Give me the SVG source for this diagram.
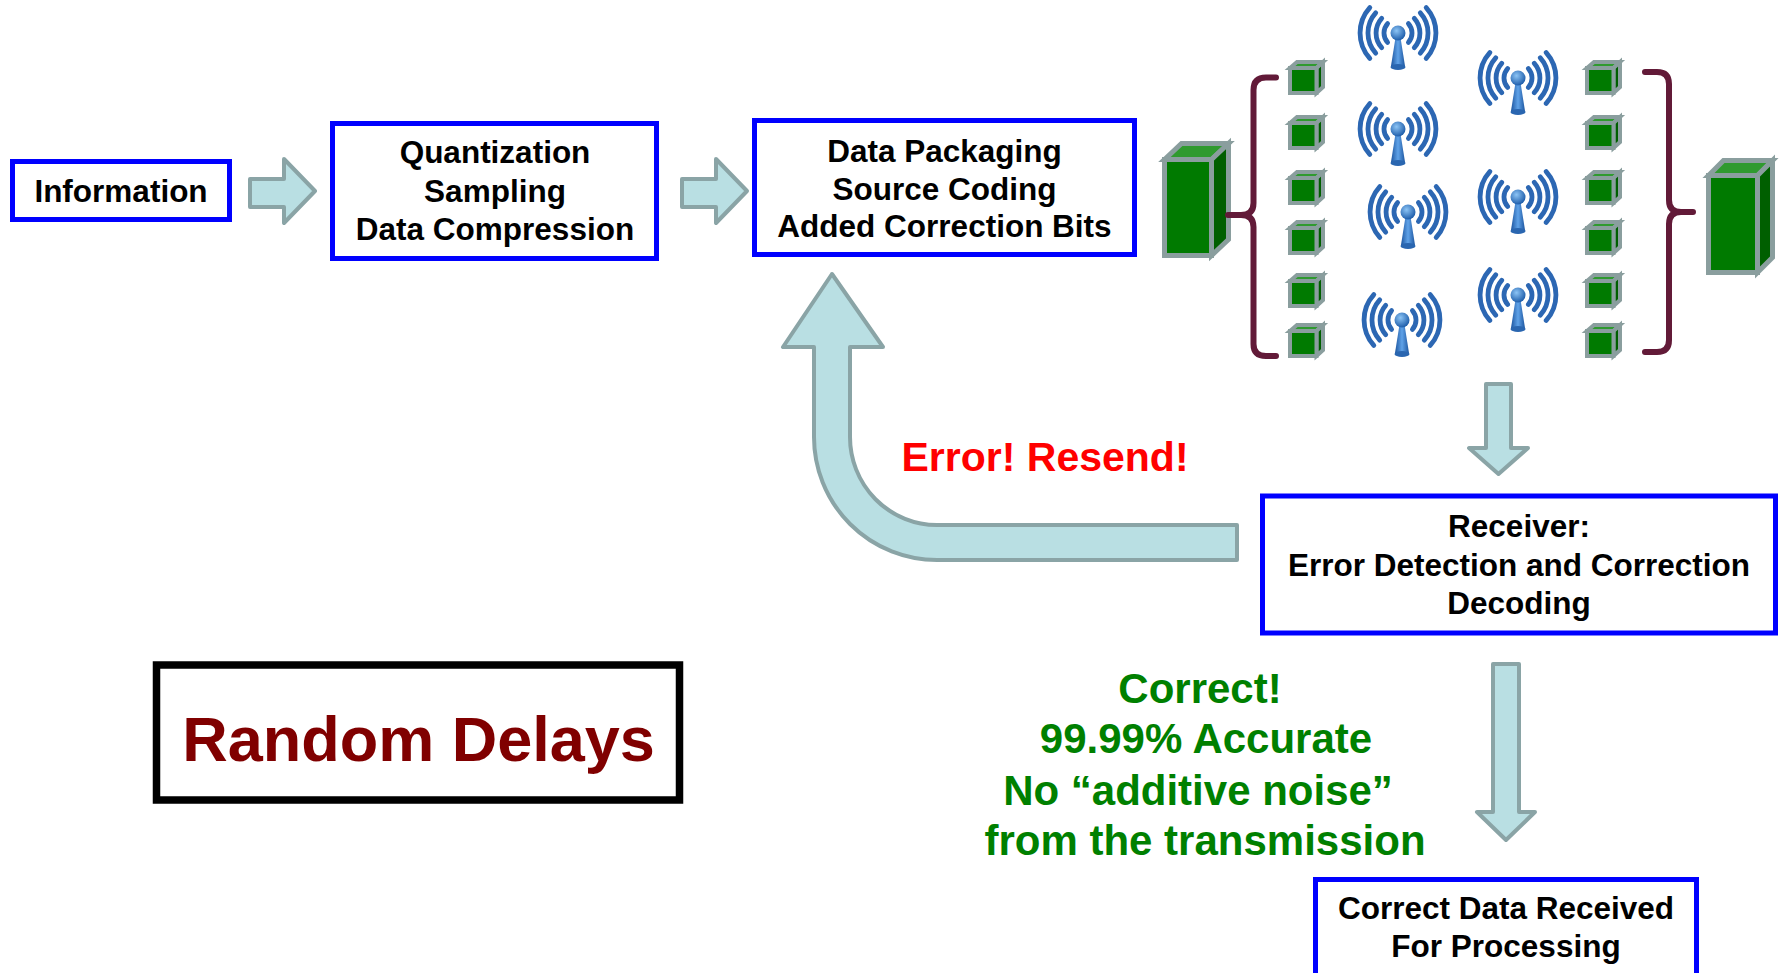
<svg xmlns="http://www.w3.org/2000/svg" width="1781" height="973" viewBox="0 0 1781 973">
  <defs>
    <style>
      .box{fill:#ffffff;stroke:#0000ff;stroke-width:5}
      .lbl{font-family:"Liberation Sans",Arial,Helvetica,sans-serif;font-weight:bold;text-anchor:middle}
      .bt{font-size:31.5px;fill:#000000}
      .flow{fill:#b9dfe3;stroke:#8aa4a6;stroke-width:4;stroke-linejoin:round}
      .brace{fill:none;stroke:#621a38;stroke-width:6;stroke-linecap:round;stroke-linejoin:round}
      .cf{fill:#007a00;stroke:#8a9e9e;stroke-width:5}
      .ct{fill:#2f9a2f;stroke:#8a9e9e;stroke-width:5}
      .cs{fill:#005f00;stroke:#8a9e9e;stroke-width:5}
      .pf{fill:#007a00;stroke:#8a9e9e;stroke-width:4}
      .pt{fill:#2f9a2f;stroke:#8a9e9e;stroke-width:4}
      .ps{fill:#005f00;stroke:#8a9e9e;stroke-width:4}
      .wave{fill:none;stroke:#2c67b3;stroke-width:4.8;stroke-linecap:round}
    </style>
    <radialGradient id="dotGrad" cx="0.4" cy="0.35" r="0.65">
      <stop offset="0" stop-color="#8cc4f5"/>
      <stop offset="1" stop-color="#1f5eab"/>
    </radialGradient>
    <linearGradient id="mastGrad" x1="0" y1="0" x2="1" y2="0">
      <stop offset="0" stop-color="#1d56a0"/>
      <stop offset="0.5" stop-color="#5fa2e8"/>
      <stop offset="1" stop-color="#1d56a0"/>
    </linearGradient>
    <!-- wireless mast icon, origin at the centre of the dot -->
    <g id="antenna">
      <path class="wave" d="M-10.4,-9.4 A14,14 0 0 0 -10.4,9.4 M10.4,-9.4 A14,14 0 0 1 10.4,9.4"/>
      <path class="wave" d="M-16.3,-14.7 A22,22 0 0 0 -16.3,14.7 M16.3,-14.7 A22,22 0 0 1 16.3,14.7"/>
      <path class="wave" d="M-22.3,-20.1 A30,30 0 0 0 -22.3,20.1 M22.3,-20.1 A30,30 0 0 1 22.3,20.1"/>
      <path class="wave" d="M-28.2,-25.4 A38,38 0 0 0 -28.2,25.4 M28.2,-25.4 A38,38 0 0 1 28.2,25.4"/>
      <path d="M-2.4,4 L2.4,4 L7,33 Q0,38 -7,33 Z" fill="url(#mastGrad)"/>
      <ellipse cx="0" cy="34" rx="7.5" ry="3" fill="#2a66b0"/>
      <circle cx="0" cy="0" r="7.5" fill="url(#dotGrad)"/>
    </g>
    <!-- small packet cube, origin at top-left of its bounds -->
    <g id="cube">
      <polygon class="pt" points="2,8 9,2 35,2 28.5,8"/>
      <polygon class="ps" points="28.5,8 35,2 35,27 28.5,33"/>
      <rect class="pf" x="2" y="8" width="26.5" height="25"/>
    </g>
  </defs>

  <rect width="1781" height="973" fill="#ffffff"/>

  <!-- flow arrows -->
  <g id="connectors">
    <polygon class="flow" points="250,179 284,179 284,159 315,191 284,223 284,207 250,207"/>
    <polygon class="flow" points="682,179 716,179 716,159 747,191 716,223 716,207 682,207"/>
    <polygon class="flow" points="1486,384 1511,384 1511,448 1528,448 1498.5,474 1469,448 1486,448"/>
    <path class="flow" d="M1237,525 L937,525 A87,88 0 0 1 850,437 L850,347 L883,347 L832,274 L783,347 L814,347 L814,437 A123,123 0 0 0 937,560 L1237,560 Z"/>
    <polygon class="flow" points="1493,664 1519,664 1519,812 1535,812 1506,840 1477,812 1493,812"/>
  </g>

  <!-- processing stages -->
  <g id="information">
    <rect class="box" x="12.5" y="161.5" width="217" height="58"/>
    <text class="lbl bt" x="121" y="202">Information</text>
  </g>
  <g id="quantization">
    <rect class="box" x="332.5" y="123.5" width="324" height="135"/>
    <text class="lbl bt" x="495" y="163">Quantization</text>
    <text class="lbl bt" x="495" y="201.5">Sampling</text>
    <text class="lbl bt" x="495" y="240">Data Compression</text>
  </g>
  <g id="packaging">
    <rect class="box" x="754.5" y="120.5" width="380" height="134"/>
    <text class="lbl bt" x="944.5" y="162">Data Packaging</text>
    <text class="lbl bt" x="944.5" y="199.5">Source Coding</text>
    <text class="lbl bt" x="944.5" y="237">Added Correction Bits</text>
  </g>
  <g id="receiver">
    <rect class="box" x="1262.5" y="496" width="513" height="137"/>
    <text class="lbl bt" x="1519" y="537">Receiver:</text>
    <text class="lbl bt" x="1519" y="576">Error Detection and Correction</text>
    <text class="lbl bt" x="1519" y="614">Decoding</text>
  </g>
  <g id="output">
    <rect class="box" x="1315.5" y="879.5" width="381" height="130"/>
    <text class="lbl bt" x="1506" y="919">Correct Data Received</text>
    <text class="lbl bt" x="1506" y="957">For Processing</text>
  </g>
  <g id="random-delays">
    <rect x="156.5" y="665" width="523" height="135" fill="#ffffff" stroke="#000000" stroke-width="7.5"/>
    <text class="lbl" x="418.5" y="761" font-size="63" fill="#800000">Random Delays</text>
  </g>

  <!-- status labels -->
  <g id="resend-label">
    <text class="lbl" x="1045" y="471" font-size="41" fill="#ff0000">Error! Resend!</text>
  </g>
  <g id="correct-label" class="lbl" font-size="42" fill="#008000">
    <text x="1200" y="703">Correct!</text>
    <text x="1206" y="753">99.99% Accurate</text>
    <text x="1198" y="805">No “additive noise”</text>
    <text x="1205" y="855">from the transmission</text>
  </g>

  <!-- sending unit -->
  <g id="sender">
    <polygon class="ct" points="1164.5,159.5 1181.5,143.5 1228.5,143.5 1211.5,159.5"/>
    <polygon class="cs" points="1211.5,159.5 1228.5,143.5 1228.5,239.5 1211.5,255.5"/>
    <rect class="cf" x="1164.5" y="159.5" width="47" height="96"/>
  </g>
  <g id="sender-brace">
    <path class="brace" d="M1276,77.5 L1266,77.5 Q1253.5,77.5 1253.5,90 L1253.5,203 Q1253.5,215 1241,215 L1228,215 M1241,215 Q1253.5,215 1253.5,227 L1253.5,344 Q1253.5,356 1266,356 L1276,356"/>
  </g>

  <!-- outgoing packets -->
  <g id="packets-out">
    <use href="#cube" x="1288" y="60"/>
    <use href="#cube" x="1288" y="115"/>
    <use href="#cube" x="1288" y="170"/>
    <use href="#cube" x="1288" y="220"/>
    <use href="#cube" x="1288" y="273"/>
    <use href="#cube" x="1288" y="323"/>
  </g>

  <!-- wireless channels -->
  <g id="channels">
    <use href="#antenna" x="1398" y="33"/>
    <use href="#antenna" x="1518" y="78"/>
    <use href="#antenna" x="1398" y="129"/>
    <use href="#antenna" x="1408" y="212"/>
    <use href="#antenna" x="1518" y="197"/>
    <use href="#antenna" x="1518" y="295"/>
    <use href="#antenna" x="1402" y="320"/>
  </g>

  <!-- incoming packets -->
  <g id="packets-in">
    <use href="#cube" x="1585" y="60"/>
    <use href="#cube" x="1585" y="115"/>
    <use href="#cube" x="1585" y="170"/>
    <use href="#cube" x="1585" y="220"/>
    <use href="#cube" x="1585" y="273"/>
    <use href="#cube" x="1585" y="323"/>
  </g>

  <g id="receiver-brace">
    <path class="brace" d="M1645,72 L1657,72 Q1669,72 1669,84 L1669,200 Q1669,212 1681,212 L1693,212 M1681,212 Q1669,212 1669,224 L1669,340 Q1669,352 1657,352 L1645,352"/>
  </g>

  <!-- receiving unit -->
  <g id="receiver-unit">
    <polygon class="ct" points="1708.5,175.5 1723.5,160.5 1772.5,160.5 1757.5,175.5"/>
    <polygon class="cs" points="1757.5,175.5 1772.5,160.5 1772.5,257.5 1757.5,272.5"/>
    <rect class="cf" x="1708.5" y="175.5" width="49" height="97"/>
  </g>
</svg>
